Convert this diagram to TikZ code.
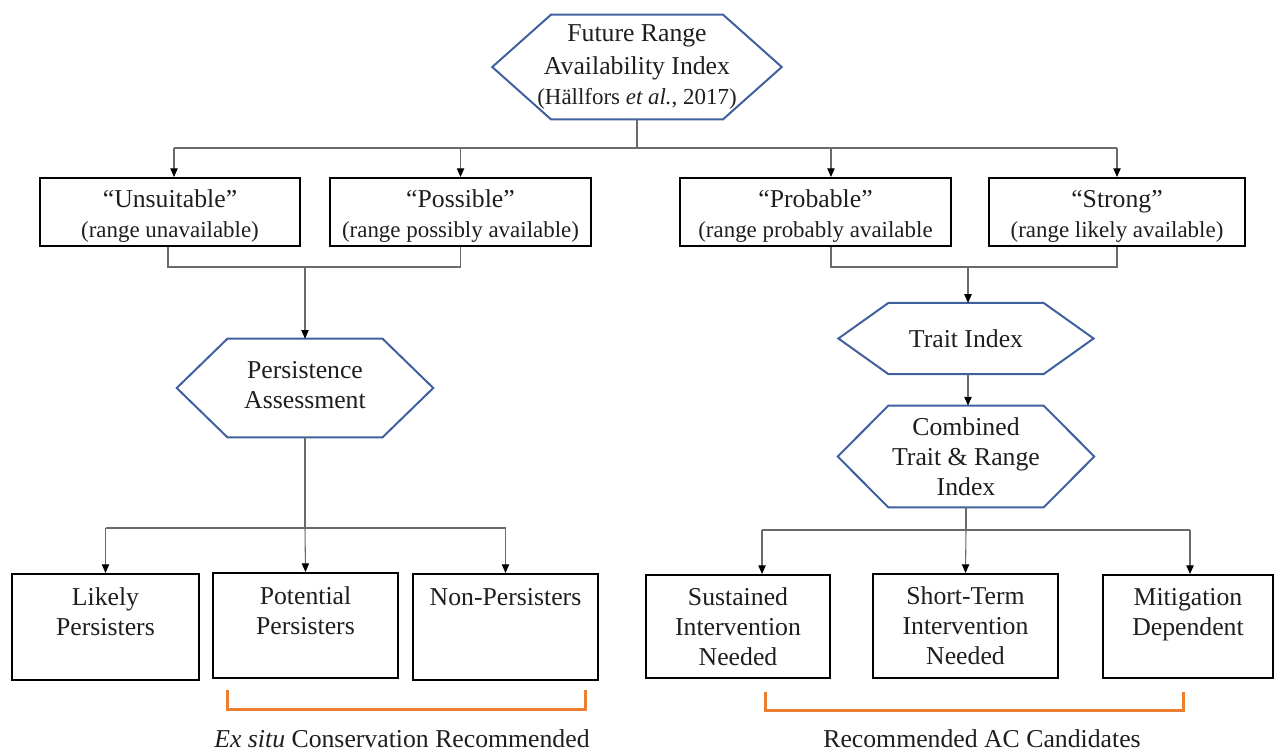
\documentclass[tikz,border=0pt]{standalone}
\usepackage{fontspec}
\setmainfont{Liberation Serif}
\usetikzlibrary{arrows.meta,calc}
\definecolor{hexblue}{HTML}{41609E}
\definecolor{brorange}{HTML}{ED7D31}
\definecolor{conncol}{HTML}{6A6A6A}
\definecolor{txt}{HTML}{1E1E1E}
\newcommand{\fA}{\fontsize{19.3}{22.5}\selectfont}
\newcommand{\fB}{\fontsize{17.2}{22.5}\selectfont}
\newcommand{\hexshape}[2]{\draw[hexline] (#1.west) -- ([xshift=#2]#1.north west) -- ([xshift=-#2]#1.north east) -- (#1.east) -- ([xshift=-#2]#1.south east) -- ([xshift=#2]#1.south west) -- cycle;}
\begin{document}
\begin{tikzpicture}[x=0.75pt,y=-0.75pt,
  box/.style={draw=black,line width=1.5pt,align=center,font=\fA,inner sep=0pt,text=txt},
  boxtxt/.style={align=center,font=\fA,inner sep=0pt,text=txt},
  hexnode/.style={align=center,font=\fA,inner sep=0pt,text=txt},
  hexline/.style={draw=hexblue,line width=1.5pt,line join=miter},
  conn/.style={draw=conncol,line width=0.8pt},
  arr/.style={conn,-{Triangle[length=6.5pt,width=5.5pt,color=black]}},
  bracket/.style={draw=brorange,line width=2.25pt},
  lbl/.style={font=\fA,text=txt}]
\useasboundingbox (0,0) rectangle (1274,751);

% top hexagon
\node[hexnode,minimum width=216.75pt,minimum height=78pt] (fri) at (637,67)
  {Future Range\\[2pt]Availability Index\\{\fB (Hällfors \textit{et al.}, 2017)}};
\hexshape{fri}{44pt}

% row 1
\node[box,minimum width=195pt,minimum height=51pt] (un) at (170,212) {};
\node[boxtxt] (unt) at (170,216.5) {“Unsuitable”\\{\fB (range unavailable)}};
\node[box,minimum width=195.75pt,minimum height=51pt] (po) at (460.5,212) {};
\node[boxtxt] (pot) at (460.5,216.5) {“Possible”\\{\fB (range possibly available)}};
\node[box,minimum width=203.25pt,minimum height=51pt] (pr) at (815.5,212) {};
\node[boxtxt] (prt) at (815.5,216.5) {“Probable”\\{\fB (range probably available}};
\node[box,minimum width=192pt,minimum height=51pt] (st) at (1117,212) {};
\node[boxtxt] (stt) at (1117,216.5) {“Strong”\\{\fB (range likely available)}};

% hexagons
\node[hexnode,minimum width=192pt,minimum height=73.5pt] (pa) at (305,388) {};
\node[boxtxt] (pat) at (305,385.5) {Persistence\\Assessment};
\hexshape{pa}{38pt}
\node[hexnode,minimum width=191pt,minimum height=53pt] (ti) at (966,338.5) {Trait Index};
\hexshape{ti}{37.5pt}
\node[hexnode,minimum width=192pt,minimum height=76pt] (cti) at (966,456.5) {Combined\\Trait \& Range\\Index};
\hexshape{cti}{38pt}

% row 3
\node[box,minimum width=140.25pt,minimum height=79.5pt] (lp) at (105.5,627) {Likely\\Persisters\\\mbox{}};
\node[box,minimum width=138.75pt,minimum height=78.75pt] (pp) at (305.5,625.5) {Potential\\Persisters\\\mbox{}};
\node[box,minimum width=138.75pt,minimum height=79.5pt] (np) at (505.5,627) {Non-Persisters\\\mbox{}\\\mbox{}};
\node[box,minimum width=138pt,minimum height=77.25pt] (si) at (738,626.5) {Sustained\\Intervention\\Needed};
\node[box,minimum width=138.75pt,minimum height=78pt] (sti) at (965.5,626) {Short-Term\\Intervention\\Needed};
\node[box,minimum width=127.5pt,minimum height=77.25pt] (md) at (1188,626.5) {Mitigation\\Dependent\\\mbox{}};

% connectors top
\coordinate (j1) at (637,148);
\coordinate (j1L) at (174,148);
\coordinate (j1R) at (1117,148);
\draw[conn] (fri.south) -- (j1);
\draw[conn] (j1L) -- (j1R);
\draw[arr] (j1L) -- (j1L |- un.north);
\draw[arr] (po.north |- j1) -- (po.north);
\draw[arr] ([xshift=11.6pt]pr.north |- j1) -- ([xshift=11.6pt]pr.north);
\draw[arr] (j1R) -- (st.north);

% left join
\coordinate (j2) at (305,267);
\draw[conn] ([xshift=-1.5pt]un.south) |- (j2);
\draw[conn] (po.south) |- (j2);
\draw[arr] (j2) -- (pa.north);

% right join
\coordinate (j3) at (968,267);
\draw[conn] ([xshift=11.6pt]pr.south) |- (j3);
\draw[conn] (st.south) |- (j3);
\draw[arr] (j3) -- (j3 |- ti.north);
\draw[arr] ([xshift=1.5pt]ti.south) -- ([xshift=1.5pt]cti.north);

% persistence outcomes
\coordinate (j4) at (305,528);
\draw[conn] (pa.south) -- (j4);
\draw[conn] (lp.north |- j4) -- (np.north |- j4);
\draw[arr] (lp.north |- j4) -- (lp.north);
\draw[arr] (j4) -- (pp.north);
\draw[arr] (np.north |- j4) -- (np.north);

% combined outcomes
\coordinate (j5) at (966,530);
\coordinate (j5L) at (762,530);
\coordinate (j5R) at (1190,530);
\draw[conn] (cti.south) -- (j5);
\draw[conn] (j5L) -- (j5R);
\draw[arr] (j5L) -- (j5L |- si.north);
\draw[arr] (j5) -- (sti.north);
\draw[arr] (j5R) -- (j5R |- md.north);

% brackets and labels
\draw[bracket] (227,690) -- (227,709) -- (585,709) -- (585,690);
\draw[bracket] (765,692) -- (765,710) -- (1183,710) -- (1183,692);
\node[lbl] (exs) at (402,739) {\textit{Ex situ} Conservation Recommended};
\node[lbl] (rac) at (982,739) {Recommended AC Candidates};
\end{tikzpicture}
\end{document}
